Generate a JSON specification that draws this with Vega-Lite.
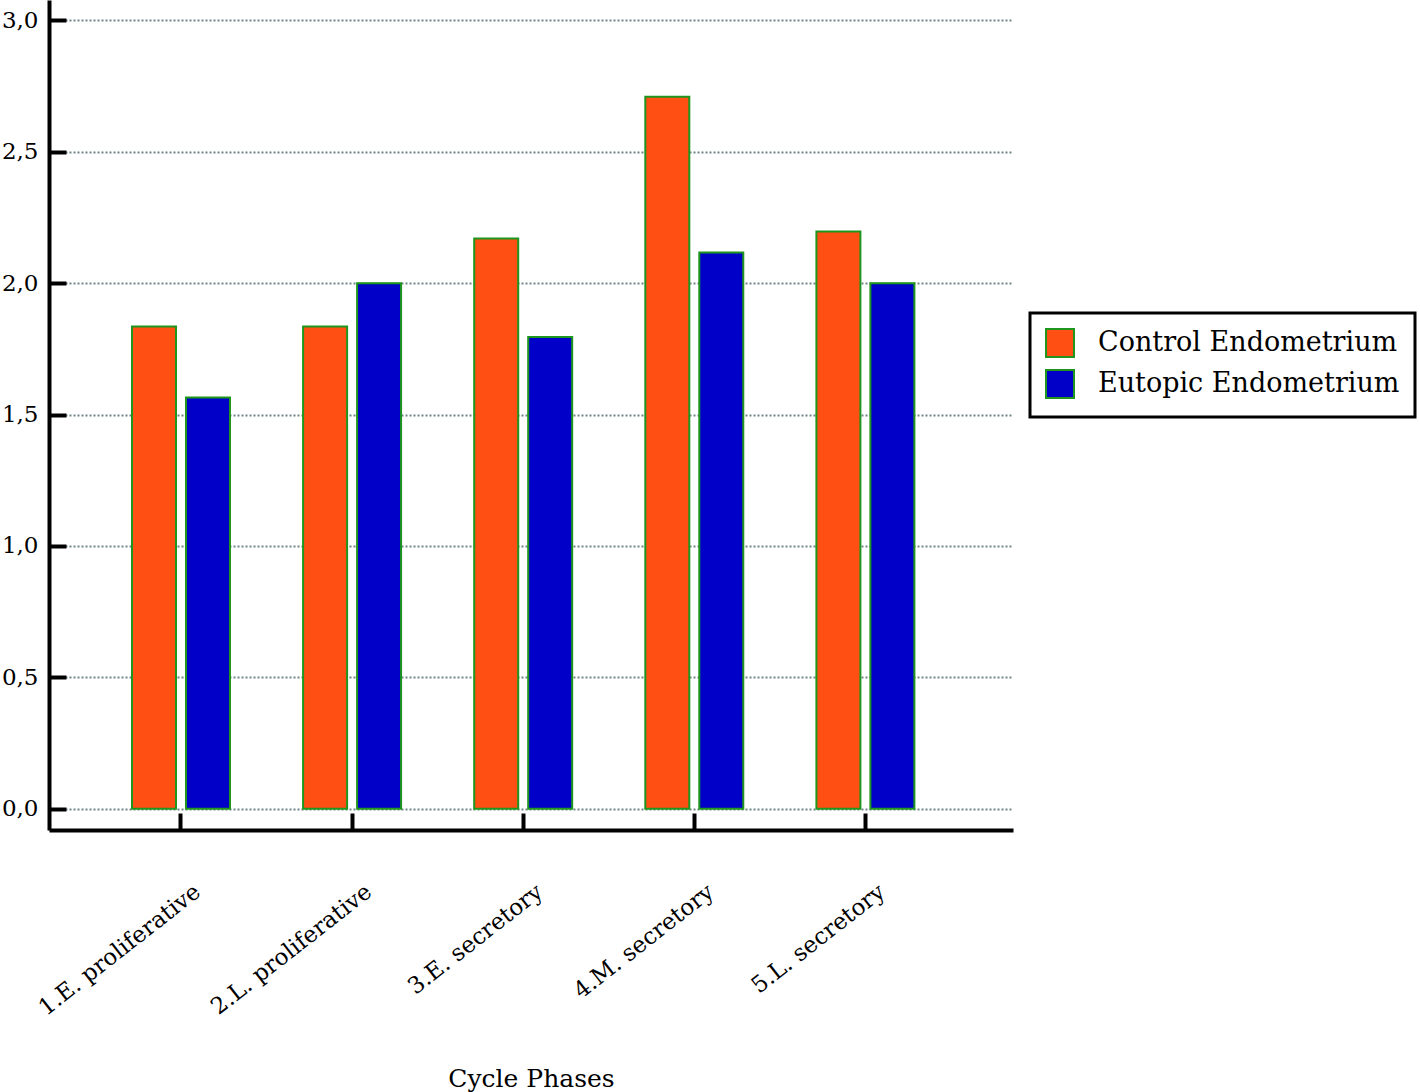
{
  "$schema": "https://vega.github.io/schema/vega-lite/v6.json",
  "width": 964,
  "height": 830,
  "autosize": "none",
  "padding": {"left": 49, "top": 0, "right": 407, "bottom": 262},
  "background": "white",
  "config": {
    "view": {"stroke": null},
    "font": "DejaVu Serif",
    "legend": {"strokeWidth": 3}
  },
  "data": {
    "values": [
      {"phase": "1.E. proliferative", "group": "Control Endometrium", "value": 1.835},
      {"phase": "1.E. proliferative", "group": "Eutopic Endometrium", "value": 1.565},
      {"phase": "2.L. proliferative", "group": "Control Endometrium", "value": 1.835},
      {"phase": "2.L. proliferative", "group": "Eutopic Endometrium", "value": 2.0},
      {"phase": "3.E. secretory", "group": "Control Endometrium", "value": 2.17},
      {"phase": "3.E. secretory", "group": "Eutopic Endometrium", "value": 1.795},
      {"phase": "4.M. secretory", "group": "Control Endometrium", "value": 2.71},
      {"phase": "4.M. secretory", "group": "Eutopic Endometrium", "value": 2.117},
      {"phase": "5.L. secretory", "group": "Control Endometrium", "value": 2.197},
      {"phase": "5.L. secretory", "group": "Eutopic Endometrium", "value": 2.0}
    ]
  },
  "mark": {"type": "bar", "stroke": "#1E961E", "strokeWidth": 2},
  "encoding": {
    "x": {
      "field": "phase",
      "type": "nominal",
      "sort": null,
      "scale": {"paddingInner": 0.4273, "paddingOuter": 0.5307, "align": 0.457},
      "axis": {
        "title": "Cycle Phases",
        "titleFont": "DejaVu Serif",
        "titleFontSize": 25,
        "titleFontWeight": "normal",
        "titleColor": "black",
        "titlePadding": 47,
        "labelFont": "DejaVu Serif",
        "labelFontSize": 23,
        "labelColor": "black",
        "labelAngle": -38,
        "labelAlign": "right",
        "labelBaseline": "top",
        "labelPadding": 67,
        "labelOffset": 10,
        "labelLimit": 500,
        "domainColor": "black",
        "domainWidth": 4,
        "tickColor": "black",
        "tickWidth": 4,
        "tickSize": -17,
        "grid": false
      }
    },
    "xOffset": {
      "field": "group",
      "type": "nominal",
      "scale": {"paddingInner": 0.185, "paddingOuter": 0}
    },
    "y": {
      "field": "value",
      "type": "quantitative",
      "scale": {"domain": [-0.081, 3.078], "nice": false, "zero": false},
      "axis": {
        "title": null,
        "values": [0, 0.5, 1, 1.5, 2, 2.5, 3],
        "labelExpr": "replace(format(datum.value, '.1f'), '.', ',')",
        "labelFont": "DejaVu Serif",
        "labelFontSize": 23,
        "labelColor": "black",
        "labelPadding": 28,
        "domainColor": "black",
        "domainWidth": 4,
        "tickColor": "black",
        "tickWidth": 4,
        "tickSize": -17,
        "grid": true,
        "gridColor": "#6F8585",
        "gridDash": [2, 2],
        "gridWidth": 2
      }
    },
    "color": {
      "field": "group",
      "type": "nominal",
      "scale": {
        "domain": ["Control Endometrium", "Eutopic Endometrium"],
        "range": ["#FF4F12", "#0000C8"]
      },
      "legend": {
        "title": null,
        "orient": "none",
        "legendX": 981,
        "legendY": 313,
        "strokeColor": "black",
        "fillColor": "white",
        "padding": 15,
        "symbolType": "square",
        "symbolSize": 784,
        "symbolStrokeColor": "#1E961E",
        "symbolStrokeWidth": 2,
        "symbolOpacity": 1,
        "rowPadding": 5,
        "labelFont": "DejaVu Serif",
        "labelFontSize": 27,
        "labelColor": "black",
        "labelOffset": 23,
        "labelLimit": 400
      }
    }
  }
}
